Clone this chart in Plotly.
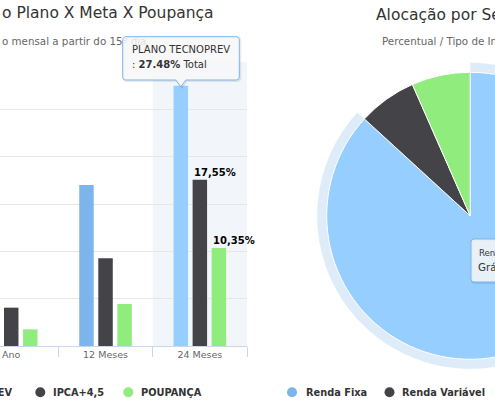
import plotly.graph_objects as go

# the figure is wider than the 495px window, the pie runs off the right edge like in the screenshot
W, H = 640, 400

categorias = ["Ano", "12 Meses", "24 Meses"]
plano = [7.5, 17.0, 27.48]       # first bar is cut off on the left, guessed
ipca = [4.05, 9.26, 17.55]
poupanca = [1.76, 4.44, 10.35]

segmentos = ["Renda Fixa", "Renda Variável", "Outros"]
alocacao = [86.8, 6.6, 6.6]

AZUL, AZUL_HOVER, PRETO, VERDE = "#7cb5ec", "#95ceff", "#434348", "#90ed7d"
FONTE = "DejaVu Sans"


def px(x):
    return x / W


def py(y):
    return 1 - y / H


def virgula(v):
    return f"{v:.2f}".replace(".", ",")


def caixa(x0, y0, x1, y1, r=3, ponta=None):
    # tooltip box with rounded corners, optional pointer at the bottom
    p = f"M{px(x0 + r)},{py(y0)} H{px(x1 - r)} Q{px(x1)},{py(y0)} {px(x1)},{py(y0 + r)} "
    p += f"V{py(y1 - r)} Q{px(x1)},{py(y1)} {px(x1 - r)},{py(y1)} "
    if ponta:
        tx, ty = ponta
        p += f"H{px(tx + 5)} L{px(tx)},{py(ty)} L{px(tx - 5)},{py(y1)} "
    p += f"H{px(x0 + r)} Q{px(x0)},{py(y1)} {px(x0)},{py(y1 - r)} "
    p += f"V{py(y0 + r)} Q{px(x0)},{py(y0)} {px(x0 + r)},{py(y0)} Z"
    return p


def texto(x, y, t, size, color="#333333", anchor="left", bold=False):
    if bold:
        t = f"<b>{t}</b>"
    return dict(x=px(x), y=py(y - 0.346 * size), xref="paper", yref="paper", text=t,
                showarrow=False, xanchor=anchor, yanchor="middle",
                font=dict(family=FONTE, size=size, color=color))


def bolinha(cx, cy, cor, r=5):
    return dict(type="circle", xref="paper", yref="paper", x0=px(cx - r), x1=px(cx + r),
                y0=py(cy + r), y1=py(cy - r), fillcolor=cor, line_width=0)


fig = go.Figure()
fig.add_bar(x=categorias, y=plano, name="PLANO TECNOPREV",
            marker=dict(color=[AZUL, AZUL, AZUL_HOVER], line_width=0))
fig.add_bar(x=categorias, y=ipca, name="IPCA+4,5", marker=dict(color=PRETO, line_width=0))
fig.add_bar(x=categorias, y=poupanca, name="POUPANÇA", marker=dict(color=VERDE, line_width=0))

# pie + hover halo behind the blue slice
cx, cy, r = 470.2, 215.8, 143.5
halo = r + 9.5
fig.add_pie(labels=segmentos, values=alocacao, sort=False, direction="clockwise",
            marker=dict(colors=["rgba(124,181,236,0.25)", "rgba(0,0,0,0)", "rgba(0,0,0,0)"], line_width=0),
            textinfo="none", hoverinfo="skip", showlegend=False,
            domain=dict(x=[px(cx - halo), px(cx + halo)], y=[py(cy + halo), py(cy - halo)]))
fig.add_pie(labels=segmentos, values=alocacao, sort=False, direction="clockwise",
            marker=dict(colors=[AZUL_HOVER, PRETO, VERDE], line=dict(color="white", width=1)),
            textinfo="none", hoverinfo="skip", showlegend=False,
            domain=dict(x=[px(cx - r), px(cx + r)], y=[py(cy + r), py(cy - r)]))

shapes = [
    dict(type="rect", xref="x", yref="y", x0=1.5, x1=2.5, y0=0, y1=30,
         fillcolor="rgba(204,214,235,0.25)", line_width=0, layer="below"),
    # tooltip bar chart
    dict(type="path", xref="paper", yref="paper", path=caixa(123.7, 37.7, 240.3, 81, ponta=(181.8, 87.7)),
         fillcolor="rgba(0,0,0,0)", line=dict(color="rgba(0,0,0,0.08)", width=2)),
    dict(type="path", xref="paper", yref="paper", path=caixa(122.7, 36.7, 239.3, 80, ponta=(180.8, 86.7)),
         fillcolor="rgba(247,247,247,0.85)", line=dict(color=AZUL, width=1)),
    # tooltip pie
    dict(type="path", xref="paper", yref="paper", path=caixa(472, 240, 601, 283),
         fillcolor="rgba(0,0,0,0)", line=dict(color="rgba(0,0,0,0.08)", width=2)),
    dict(type="path", xref="paper", yref="paper", path=caixa(471, 239, 600, 282),
         fillcolor="rgba(247,247,247,0.85)", line=dict(color=AZUL, width=1)),
    # legend symbols
    bolinha(-98, 392.3, AZUL),
    bolinha(40.3, 392.3, PRETO),
    bolinha(128.3, 392.3, VERDE),
    bolinha(292, 392.3, AZUL),
    bolinha(389.5, 392.3, PRETO),
    bolinha(506, 392.3, VERDE),
]

annotations = [
    texto(-0.5, 18.3, "o Plano X Meta X Poupança", 15.5),
    texto(-0.5, 44.3, "o mensal a partir do 15<span style='color:#e2e2e2'>º dia</span>", 10.3, "#666666"),
    texto(374, 20.7, "Alocação por Segmento", 15.5),
    texto(380, 45, "Percentual / Tipo de Investimento", 10.3, "#666666"),
    # tooltip texts
    texto(129.7, 53.3, "PLANO TECNOPREV", 10),
    texto(129.7, 67.7, f": <b>{plano[2]:.2f}%</b> Total", 10),
    texto(476.7, 256, segmentos[0], 8.6),
    texto(475.5, 270.7, f"Gráfico: <b>{alocacao[0]:.1f}%</b>", 10.3),
    # legends
    texto(13.5, 395.7, "PLANO TECNOPREV", 9.8, anchor="right", bold=True),
    texto(51, 395.7, "IPCA+4,5", 9.8, bold=True),
    texto(139, 395.7, "POUPANÇA", 9.8, bold=True),
    texto(304, 395.7, segmentos[0], 9.8, bold=True),
    texto(400, 395.7, segmentos[1], 9.8, bold=True),
    texto(517, 395.7, segmentos[2], 9.8, bold=True),
]

# data labels on the last group
for valores, desloc in [(ipca, -7.3), (poupanca, 11.7)]:
    annotations.append(dict(x=categorias[2], y=valores[2], xref="x", yref="y",
                            text=f"<b>{virgula(valores[2])}%</b>", showarrow=False,
                            xanchor="left", yanchor="bottom", xshift=desloc - 1,
                            font=dict(family=FONTE, size=10, color="#000000")))

fig.update_layout(
    width=W, height=H,
    margin=dict(l=0, r=0, t=0, b=0),
    paper_bgcolor="white", plot_bgcolor="white",
    showlegend=False,
    barmode="group", bargap=0.394, bargroupgap=0.24,
    font=dict(family=FONTE, color="#333333"),
    xaxis=dict(domain=[0, px(247)], range=[-0.119, 2.5], type="category",
               tickson="boundaries", ticks="outside", ticklen=10, tickcolor="#ccd6eb",
               showline=True, linecolor="#ccd6eb", showgrid=False,
               tickfont=dict(family=FONTE, size=9.5, color="#666666")),
    yaxis=dict(domain=[py(346), py(62)], range=[0, 30], dtick=5, showticklabels=False,
               gridcolor="#e6e6e6", zeroline=False),
    shapes=shapes,
    annotations=annotations,
)

# page margin off and no scrollbars, the window only shows the left 495px
fig.write_html("out.html", config={"displayModeBar": False},
               post_script="document.body.style.margin='0';"
                           "document.documentElement.style.overflow='hidden';"
                           "document.body.style.overflow='hidden';")
